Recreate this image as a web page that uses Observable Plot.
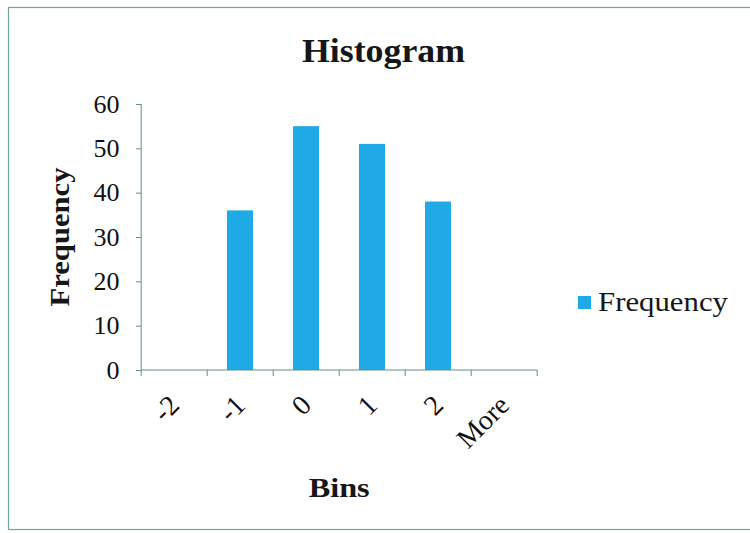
<!DOCTYPE html>
<html>
<head>
<meta charset="utf-8">
<script src="https://cdn.jsdelivr.net/npm/d3@7"></script>
<script src="https://cdn.jsdelivr.net/npm/@observablehq/plot@0.6"></script>
<style>
  html, body { margin: 0; padding: 0; background: #fff; }
  #chart { position: relative; width: 750px; height: 533px; }
</style>
</head>
<body>
<div id="chart"></div>
<script>
const bins = ["-2", "-1", "0", "1", "2", "More"];
const frequency = [0, 36, 55, 51, 38, 0];
const yTicks = [0, 10, 20, 30, 40, 50, 60];
const title = "Histogram";
const xLabel = "Bins";
const yLabel = "Frequency";
const seriesName = "Frequency";

const data = bins.map((b, i) => ({bin: b, value: frequency[i]}));
const barColor = "#1fa9e6";
const axisColor = "#5f8f88";
const serif = "Liberation Serif, DejaVu Serif, serif";

const chart = Plot.plot({
  width: 750,
  height: 533,
  marginLeft: 141,
  marginRight: 213,
  marginTop: 104,
  marginBottom: 163,
  style: {fontFamily: serif, background: "#fff", overflow: "visible"},
  x: {type: "band", domain: bins, paddingInner: 0.6, paddingOuter: 0.3, label: null},
  y: {domain: [0, 60], label: null},
  marks: [
    Plot.barY(data, {x: "bin", y: "value", fill: barColor}),
    Plot.axisY({ticks: yTicks, tickSize: 5, tickPadding: 17, fontSize: 26, stroke: axisColor, fill: "#111", label: null}),
    Plot.axisX({tickSize: 0, tickPadding: 30, tickRotate: -45, fontSize: 28, fill: "#111", label: null})
  ]
});

const svg = d3.select(chart);
const xs = chart.scale("x");
const ys = chart.scale("y");
const step = xs.step;
const y0 = ys.apply(0);
const y60 = ys.apply(60);
const leftEdge = xs.apply(bins[0]) - 0.6 * step / 2;
const rightEdge = leftEdge + bins.length * step;

// y axis line
svg.append("line").attr("x1", leftEdge).attr("x2", leftEdge).attr("y1", y60).attr("y2", y0)
  .attr("stroke", axisColor);
// x axis line
svg.append("line").attr("x1", leftEdge).attr("x2", rightEdge).attr("y1", y0).attr("y2", y0).attr("stroke", axisColor);
// x tick marks at bin boundaries
d3.range(bins.length + 1).forEach(i => {
  const x = leftEdge + i * step;
  svg.append("line").attr("x1", x).attr("x2", x).attr("y1", y0).attr("y2", y0 + 6).attr("stroke", axisColor);
});

// outer border
svg.append("rect").attr("x", 8.5).attr("y", 7.5).attr("width", 760).attr("height", 522)
  .attr("fill", "none").attr("stroke", "#6aa89c").attr("stroke-width", 1.2);

function addText(t, x, y, size, weight, len, anchor) {
  return svg.append("text").attr("x", x).attr("y", y).attr("text-anchor", anchor)
    .attr("font-family", serif).attr("font-weight", weight).attr("font-size", size).attr("fill", "#161616")
    .attr("textLength", len).attr("lengthAdjust", "spacingAndGlyphs").text(t);
}
// title
addText(title, 383.5, 62, 33, "bold", 163, "middle");
// x label
addText(xLabel, (leftEdge + rightEdge) / 2, 497, 28, "bold", 61, "middle");
// y label
addText(yLabel, 0, 0, 28, "bold", 139, "middle")
  .attr("transform", `translate(69, ${(y0 + y60) / 2}) rotate(-90)`);
// legend
svg.append("rect").attr("x", 578).attr("y", 296).attr("width", 13).attr("height", 13).attr("fill", barColor);
addText(seriesName, 598, 311, 28, "normal", 130, "start");

document.getElementById("chart").appendChild(chart);
</script>
</body>
</html>
